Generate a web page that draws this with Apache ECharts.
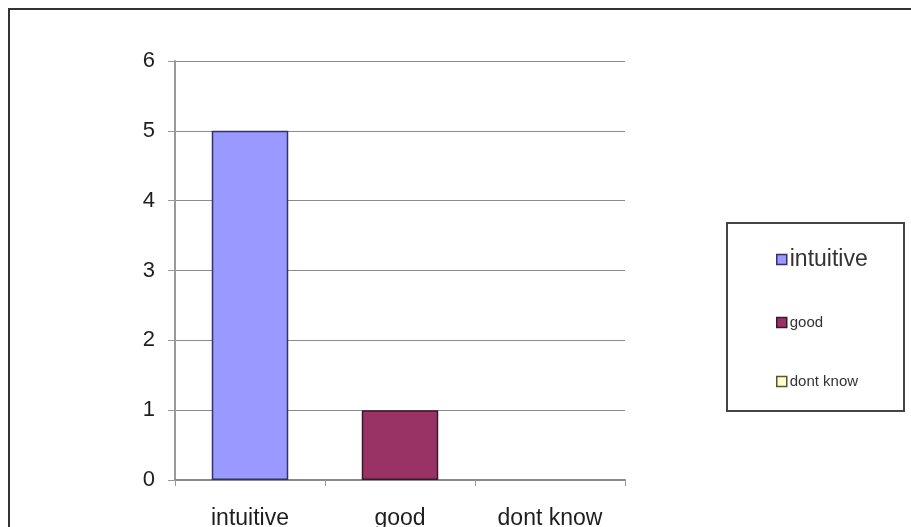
<!DOCTYPE html>
<html>
<head>
<meta charset="utf-8">
<script src="https://cdn.jsdelivr.net/npm/echarts@6/dist/echarts.min.js"></script>
<style>
  html, body { margin: 0; padding: 0; background: #fff; }
  #chart { width: 911px; height: 527px; }
</style>
</head>
<body>
<div id="chart"></div>
<script>
// Survey answers: how the interface felt
const categories = ['intuitive', 'good', 'dont know'];
const counts = [5, 1, 0];
const yTicks = [0, 1, 2, 3, 4, 5, 6];

const fills = ['#9999FF', '#993366', '#FFFFCC'];
const edges = ['#333366', '#3a1a2a', '#555533'];
const legendSizes = [23, 15, 15];

const chart = echarts.init(document.getElementById('chart'));

// One series per answer, stacked so each bar sits centred in its own slot.
// An empty answer gets no outline, so nothing shows on the baseline.
const series = categories.map((name, i) => ({
  name: name,
  type: 'bar',
  stack: 'answers',
  barWidth: '51%',
  data: categories.map((_, j) => {
    if (j !== i) return '-';
    return counts[i] === 0 ? { value: counts[i], itemStyle: { borderWidth: 0 } } : counts[i];
  }),
  itemStyle: { color: fills[i], borderColor: edges[i], borderWidth: 1.5 }
}));

chart.setOption({
  animation: false,
  backgroundColor: '#fff',
  textStyle: { fontFamily: 'Liberation Sans, Arial, sans-serif' },
  grid: { left: 175, right: 286, top: 61, bottom: 47, containLabel: false, outerBoundsMode: 'none' },
  graphic: [
    {
      type: 'rect',
      shape: { x: 9, y: 9, width: 920, height: 540 },
      style: { fill: 'none', stroke: '#333', lineWidth: 2 },
      silent: true
    },
    {
      type: 'rect',
      shape: { x: 727, y: 223, width: 177, height: 188 },
      style: { fill: '#fff', stroke: '#444', lineWidth: 2 },
      silent: true,
      z: -1
    }
  ],
  legend: {
    orient: 'vertical',
    left: 771,
    top: 243,
    itemGap: 44,
    itemWidth: 10,
    itemHeight: 10,
    icon: 'rect',
    z: 10,
    data: categories.map((name, i) => ({
      name: name,
      itemStyle: { color: fills[i], borderColor: edges[i], borderWidth: 1.5 },
      textStyle: { fontSize: legendSizes[i], color: '#333', padding: [0, 0, 0, -2] }
    }))
  },
  xAxis: {
    type: 'category',
    data: categories,
    axisLine: { lineStyle: { color: '#888', width: 2 } },
    axisTick: { show: true, length: 6, lineStyle: { color: '#999' } },
    axisLabel: { fontSize: 23, color: '#1e1e1e', margin: 27 }
  },
  yAxis: {
    type: 'value',
    min: yTicks[0],
    max: yTicks[yTicks.length - 1],
    interval: 1,
    axisLine: { show: true, lineStyle: { color: '#999', width: 2 } },
    axisTick: { show: true, length: 7, lineStyle: { color: '#999' } },
    axisLabel: { fontSize: 22, color: '#1e1e1e', margin: 20 },
    splitLine: { lineStyle: { color: '#8a8a8a', width: 1.2 } }
  },
  series: series
});
</script>
</body>
</html>
